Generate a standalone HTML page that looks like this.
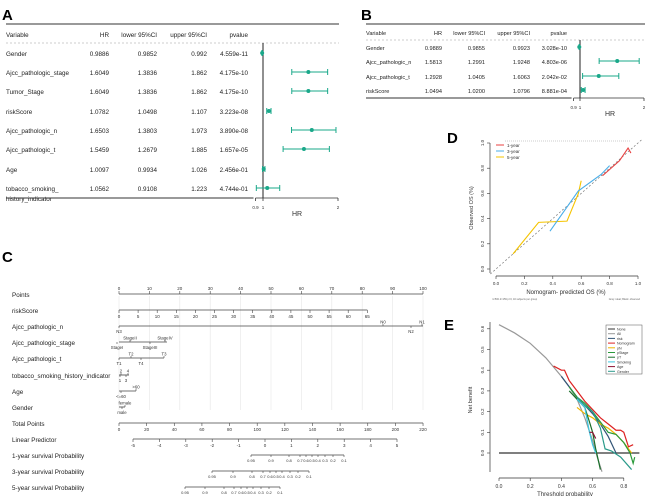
<!DOCTYPE html>
<html><head><meta charset="utf-8"><style>
body{margin:0;background:#fff}
svg{display:block;font-family:"Liberation Sans",sans-serif}
</style></head><body>
<svg id="fig" width="647" height="496" viewBox="0 0 647 496" xmlns="http://www.w3.org/2000/svg"></svg>
<script>
// ---- Panel A data ----
const aVars=["Gender","Ajcc_pathologic_stage","Tumor_Stage","riskScore","Ajcc_pathologic_n","Ajcc_pathologic_t","Age","tobacco_smoking_"];
const aHR=[0.9886,1.6049,1.6049,1.0782,1.6503,1.5459,1.0097,1.0562];
const aLo=[0.9852,1.3836,1.3836,1.0498,1.3803,1.2679,0.9934,0.9108];
const aHi=[0.992,1.862,1.862,1.107,1.973,1.885,1.026,1.223];
const aP=["4.559e-11","4.175e-10","4.175e-10","3.223e-08","3.890e-08","1.657e-05","2.456e-01","4.744e-01"];
const aHRs=["0.9886","1.6049","1.6049","1.0782","1.6503","1.5459","1.0097","1.0562"];
const aLos=["0.9852","1.3836","1.3836","1.0498","1.3803","1.2679","0.9934","0.9108"];
const aHis=["0.992","1.862","1.862","1.107","1.973","1.885","1.026","1.223"];
// ---- Panel B data ----
const bVars=["Gender","Ajcc_pathologic_n","Ajcc_pathologic_t","riskScore"];
const bHR=[0.9889,1.5813,1.2928,1.0494];
const bLo=[0.9855,1.2991,1.0405,1.0200];
const bHi=[0.9923,1.9248,1.6063,1.0796];
const bHRs=["0.9889","1.5813","1.2928","1.0494"];
const bLos=["0.9855","1.2991","1.0405","1.0200"];
const bHis=["0.9923","1.9248","1.6063","1.0796"];
const bP=["3.028e-10","4.803e-06","2.042e-02","8.881e-04"];
const hrTicks=[0.9,1,2];
// ---- Panel D data ----
const d1x=[0.75,0.78,0.87,0.93,0.95];const d1y=[0.74,0.77,0.86,0.96,0.92];
const d3x=[0.38,0.58,0.74,0.80];const d3y=[0.30,0.62,0.75,0.82];
const d5x=[0.12,0.30,0.50,0.58,0.60];const d5y=[0.12,0.37,0.38,0.60,0.70];
const dTicks=[0,0.2,0.4,0.6,0.8,1.0];
// ---- Panel E data ----
const eNames=["None","All","risk","Nomogram","pN","pStage","pT","Smoking","Age","Gender"];
const eColors=["#333","#999","#335577","#d22","#f0b400","#2a9a3a","#1a6e2a","#3cc8e0","#8b1030","#2a9a8a"];
const eX=[[0,0.9],[0,0.1,0.2,0.3,0.4,0.45,0.5,0.55,0.6,0.63,0.66],[0.4,0.45,0.5,0.55,0.6,0.65,0.7,0.75],[0.35,0.4,0.42,0.45,0.5,0.55,0.6,0.65,0.7,0.75,0.78,0.8,0.83,0.86],[0.5,0.55,0.6,0.65,0.7,0.75,0.8,0.85],[0.45,0.5,0.55,0.6,0.65,0.7,0.75,0.8,0.84,0.86,0.87],[0.45,0.5,0.55,0.58,0.6,0.62,0.65],[0.5,0.55,0.58,0.6,0.62],[0.58,0.6,0.62],[0.5,0.55,0.6,0.65,0.68,0.72,0.78,0.85]];
const eY=[[0,0],[0.62,0.58,0.53,0.46,0.37,0.32,0.26,0.17,0.06,-0.02,-0.09],[0.37,0.32,0.27,0.23,0.19,0.14,0.08,0.0],[0.42,0.40,0.40,0.35,0.30,0.25,0.21,0.17,0.14,0.11,0.11,0.10,0.03,0.04],[0.22,0.19,0.17,0.14,0.12,0.09,0.05,0.0],[0.32,0.27,0.24,0.2,0.15,0.10,0.09,0.05,0.0,-0.05,-0.02],[0.30,0.26,0.22,0.15,0.1,0.02,-0.08],[0.26,0.22,0.1,0.04,0.0],[0.1,0.1,0.07],[0.27,0.23,0.2,0.12,0.02,0.01,-0.02,-0.08]];
const eXT=[0,0.2,0.4,0.6,0.8];const eYT=[0,0.1,0.2,0.3,0.4,0.5,0.6];
// ---- Panel C labels ----
const cRows=["Points","riskScore","Ajcc_pathologic_n","Ajcc_pathologic_stage","Ajcc_pathologic_t","tobacco_smoking_history_indicator","Age","Gender","Total Points","Linear Predictor","1-year survival Probability","3-year survival Probability","5-year survival Probability"];
const ptsTicks=[0,10,20,30,40,50,60,70,80,90,100];
const rsTicks=[0,5,10,15,20,25,30,35,40,45,50,55,60,65];
const totTicks=[0,20,40,60,80,100,120,140,160,180,200,220];
const lpTicks=[-5,-4,-3,-2,-1,0,1,2,3,4,5];
const probLab=["0.95","0.9","0.8","0.7","0.6","0.5","0.4","0.3","0.2","0.1"];
const p1=[251,271,289,300,306,312,318,325,333,344];
const p3=[212,233,252,263,270,276,282,290,298,309];
const p5=[185,205,224,234,241,247,253,261,269,280];

const S=document.getElementById('fig');const NS="http://www.w3.org/2000/svg";
function el(t,a,txt){const e=document.createElementNS(NS,t);for(const k in a)e.setAttribute(k,a[k]);if(txt!=null)e.textContent=txt;S.appendChild(e);return e;}
function tx(x,y,s,size,anchor,fill,name){const e=el('text',{x:x,y:y,'font-size':size,'text-anchor':anchor||'start',fill:fill||'#222'},s);

return e;}
function ln(x1,y1,x2,y2,st,w,name,dash){const e=el('line',{x1,y1,x2,y2,stroke:st||'#333','stroke-width':w||0.8});if(dash)e.setAttribute('stroke-dasharray',dash);

return e;}

// Panel letters
[["A",2,20],["B",361,20],["C",2,262],["D",447,143],["E",444,330]].forEach(p=>{const t=tx(p[1],p[2],p[0],15,'start','#000','panel-label');t.setAttribute('font-weight','bold');});

// Forest plot function
function forest(o){
 ln(o.x0,o.top,o.x1,o.top,'#333',1,'top-rule');
 tx(o.x0,o.hy,"Variable",o.fs,'start','#222','header-variable');
 tx(o.cHR,o.hy,"HR",o.fs,'end','#222','header-hr');
 tx(o.cLo,o.hy,"lower 95%CI",o.fs,'end','#222','header-lower');
 tx(o.cHi,o.hy,"upper 95%CI",o.fs,'end','#222','header-upper');
 tx(o.cP,o.hy,"pvalue",o.fs,'end','#222','header-pvalue');
 ln(o.x0,o.dash,o.x1,o.dash,'#999',0.6,'header-divider','2,2');
 const X=v=>o.one+(v-1)*o.k;
 ln(X(1),o.dash,X(1),o.bot,'#222',1,'reference-line');
 o.vars.forEach((v,i)=>{const y=o.rows[i];
  tx(o.x0,y+3,v,o.fs,'start','#222','variable-name');
  tx(o.cHR,y+3,o.hrs[i],o.fs,'end','#222','hr-value');
  tx(o.cLo,y+3,o.los[i],o.fs,'end','#222','lower-ci');
  tx(o.cHi,y+3,o.his[i],o.fs,'end','#222','upper-ci');
  tx(o.cP,y+3,o.p[i],o.fs,'end','#222','p-value');
  ln(X(o.lo[i]),y,X(o.hi[i]),y,'#1aa88a',1,'ci-bar');
  ln(X(o.lo[i]),y-3,X(o.lo[i]),y+3,'#1aa88a',1,'ci-cap');
  ln(X(o.hi[i]),y-3,X(o.hi[i]),y+3,'#1aa88a',1,'ci-cap');
  const c=el('circle',{cx:X(o.hr[i]),cy:y,r:2,fill:'#1aa88a'});
  
  
 });
 if(o.extra)tx(o.x0,o.rows[o.rows.length-1]+13,o.extra,o.fs,'start','#222','variable-name-cont');
 ln(o.x0,o.bot,X(hrTicks[0])-2,o.bot,'#333',1,'bottom-rule');
 ln(X(hrTicks[0]),o.bot,X(2),o.bot,'#333',0.8,'hr-axis');
 hrTicks.forEach(t=>{ln(X(t),o.bot,X(t),o.bot+3,'#333',0.8,'hr-tick');tx(X(t),o.bot+11,String(t),4.5,'middle','#333','hr-tick-label');});
 tx(o.hrx,o.bot+18,"HR",7,'middle','#333','hr-axis-title');
}
forest({x0:6,x1:339,top:24,hy:37,dash:43,bot:198,fs:6.3,cHR:109,cLo:157,cHi:207,cP:248,one:263,k:75,
 rows:[53,72,91,111,130,149,169,188],vars:aVars,hr:aHR,lo:aLo,hi:aHi,hrs:aHRs,los:aLos,his:aHis,p:aP,extra:"history_indicator",hrx:297});
forest({x0:366,x1:645,top:24,hy:35,dash:40,bot:98,fs:5.6,cHR:442,cLo:485,cHi:530,cP:567,one:580,k:64,
 rows:[47,61,76,90],vars:bVars,hr:bHR,lo:bLo,hi:bHi,hrs:bHRs,los:bLos,his:bHis,p:bP,hrx:610});

// Panel C nomogram
const cY=[294,310,326,342,358,375,391,407,423,439,455,471,487];
cRows.forEach((r,i)=>tx(12,cY[i]+3,r,6.3,'start','#222','nomogram-row-label'));
const P=v=>119+v*3.04;
ptsTicks.forEach(t=>ln(P(t),296,P(t),410,'#e6e6e6',0.6,'grid-line'));
ln(P(0),294,P(100),294,'#444',0.8,'points-axis');
ptsTicks.forEach(t=>{ln(P(t),294,P(t),291,'#444',0.6,'tick');tx(P(t),290,String(t),4.5,'middle','#333','points-tick-label');});
const R=v=>119+v*3.82;
ln(R(0),310,R(65),310,'#444',0.8,'riskscore-axis');
rsTicks.forEach(t=>{ln(R(t),310,R(t),313,'#444',0.6,'tick');tx(R(t),318,String(t),4.5,'middle','#333','riskscore-tick-label');});
function scale(y,x1,x2,ab,be,name){ln(x1,y,x2,y,'#444',0.8,name);ab.forEach(a=>{ln(a[1],y,a[1],y-2,'#444',0.6,'tick');tx(a[1],y-2.5,a[0],4.3,'middle','#333',name+'-label');});be.forEach(a=>{ln(a[1],y,a[1],y+2,'#444',0.6,'tick');tx(a[1],y+7,a[0],4.3,'middle','#333',name+'-label');});}
scale(326,119,423,[["N0",383],["N1",422]],[["N3",119],["N2",411]],'n-axis');
scale(342,119,167,[["StageII",130],["StageIV",165]],[["StageI",117],["StageIII",150]],'stage-axis');
scale(358,119,164,[["T2",131],["T3",164]],[["T1",119],["T4",141]],'t-axis');
scale(375,119,129,[["2",121],["4",128]],[["1",120],["3",126]],'tobacco-axis');
scale(391,119,136,[[">60",136]],[["<=60",121]],'age-axis');
scale(407,119,125,[["female",125]],[["male",122]],'gender-axis');
const T=v=>119+v*1.382;
ln(T(0),423,T(220),423,'#444',0.8,'total-points-axis');
totTicks.forEach(t=>{ln(T(t),423,T(t),426,'#444',0.6,'tick');tx(T(t),431,String(t),4.5,'middle','#333','total-tick-label');});
const L=v=>265+v*26.4;
ln(L(-5),439,L(5),439,'#444',0.8,'linear-predictor-axis');
lpTicks.forEach(t=>{ln(L(t),439,L(t),442,'#444',0.6,'tick');tx(L(t),447,String(t),4.5,'middle','#333','lp-tick-label');});
[[455,p1],[471,p3],[487,p5]].forEach(q=>{ln(q[1][0],q[0],q[1][9],q[0],'#444',0.8,'prob-axis');q[1].forEach((x,j)=>{ln(x,q[0],x,q[0]+2,'#444',0.6,'tick');tx(x,q[0]+7,probLab[j],4,'middle','#333','prob-tick-label');});});

// Panel D calibration
const DX=v=>496+v*142,DY=v=>269-v*126;
ln(490,143,490,273,'#333',0.7,'d-y-axis');ln(496,276,638,276,'#333',0.7,'d-x-axis');
dTicks.forEach(t=>{ln(490,DY(t),487,DY(t),'#333',0.6,'tick');const e=tx(484,DY(t),t.toFixed(1),4.5,'middle','#333','d-y-tick');e.setAttribute('transform',`rotate(-90 484 ${DY(t)})`);
 ln(DX(t),276,DX(t),279,'#333',0.6,'tick');tx(DX(t),285,t.toFixed(1),4.5,'middle','#333','d-x-tick');});
ln(DX(-0.04),DY(-0.04),DX(1.03),DY(1.03),'#777',0.7,'ideal-line','2,2');
ln(505,141,630,141,'#999',0.5,'rug','1,1');
const dy=tx(473,208,"Observed OS (%)",5.5,'middle','#333','d-y-title');dy.setAttribute('transform','rotate(-90 473 208)');
tx(566,294,"Nomogram- predicted OS (%)",6,'middle','#333','d-x-title');
tx(492,300,"n=500 d=159 p=3, 40 subjects per group",2.5,'start','#666','d-note');
tx(640,300,"Gray: ideal; Black: observed",2.5,'end','#666','d-note');
function pl(xs,ys,X,Y,col,name,w){const e=el('polyline',{points:xs.map((x,i)=>X(x)+','+Y(ys[i])).join(' '),fill:'none',stroke:col,'stroke-width':w||1.1});

return e;}
pl(d5x,d5y,DX,DY,'#f5c400','five-year-line');pl(d3x,d3y,DX,DY,'#4aaee8','three-year-line');pl(d1x,d1y,DX,DY,'#e84040','one-year-line');
[["1-year","#e84040"],["3-year","#4aaee8"],["5-year","#f5c400"]].forEach((l,i)=>{ln(496,145+i*6,504,145+i*6,l[1],1,'d-legend-swatch');tx(507,147+i*6,l[0],4.5,'start','#333','d-legend-label');});

// Panel E DCA
const EX=v=>499+v*156,EY=v=>453-v*207;
ln(490,322,490,472,'#333',0.7,'e-y-axis');ln(EX(0),478,EX(0.8),478,'#333',0.7,'e-x-axis');
eYT.forEach(t=>{ln(490,EY(t),487,EY(t),'#333',0.6,'tick');const e=tx(484,EY(t),t.toFixed(1),4.5,'middle','#333','e-y-tick');e.setAttribute('transform',`rotate(-90 484 ${EY(t)})`);});
eXT.forEach(t=>{ln(EX(t),478,EX(t),481,'#333',0.6,'tick');tx(EX(t),488,t.toFixed(1),5,'middle','#333','e-x-tick');});
const ey=tx(472,400,"Net benefit",5.5,'middle','#333','e-y-title');ey.setAttribute('transform','rotate(-90 472 400)');
tx(565,496,"Threshold probability",6,'middle','#333','e-x-title');
const clip=el('clipPath',{id:'ec'});const cr=document.createElementNS(NS,'rect');cr.setAttribute('x',490);cr.setAttribute('y',322);cr.setAttribute('width',157);cr.setAttribute('height',150);clip.appendChild(cr);


eNames.forEach((n,i)=>{const p=pl(eX[i],eY[i],EX,EY,eColors[i],'dca-'+n.toLowerCase(),1.2);p.setAttribute('clip-path','url(#ec)');});
const lb=el('rect',{x:606,y:325,width:36,height:49,fill:'#fff',stroke:'#555','stroke-width':0.5});


eNames.forEach((n,i)=>{const y=329+i*4.7;ln(608,y,615,y,eColors[i],1,'e-legend-swatch');tx(617,y+1.5,n,3.6,'start','#333','e-legend-label');});
</script>
</body></html>
